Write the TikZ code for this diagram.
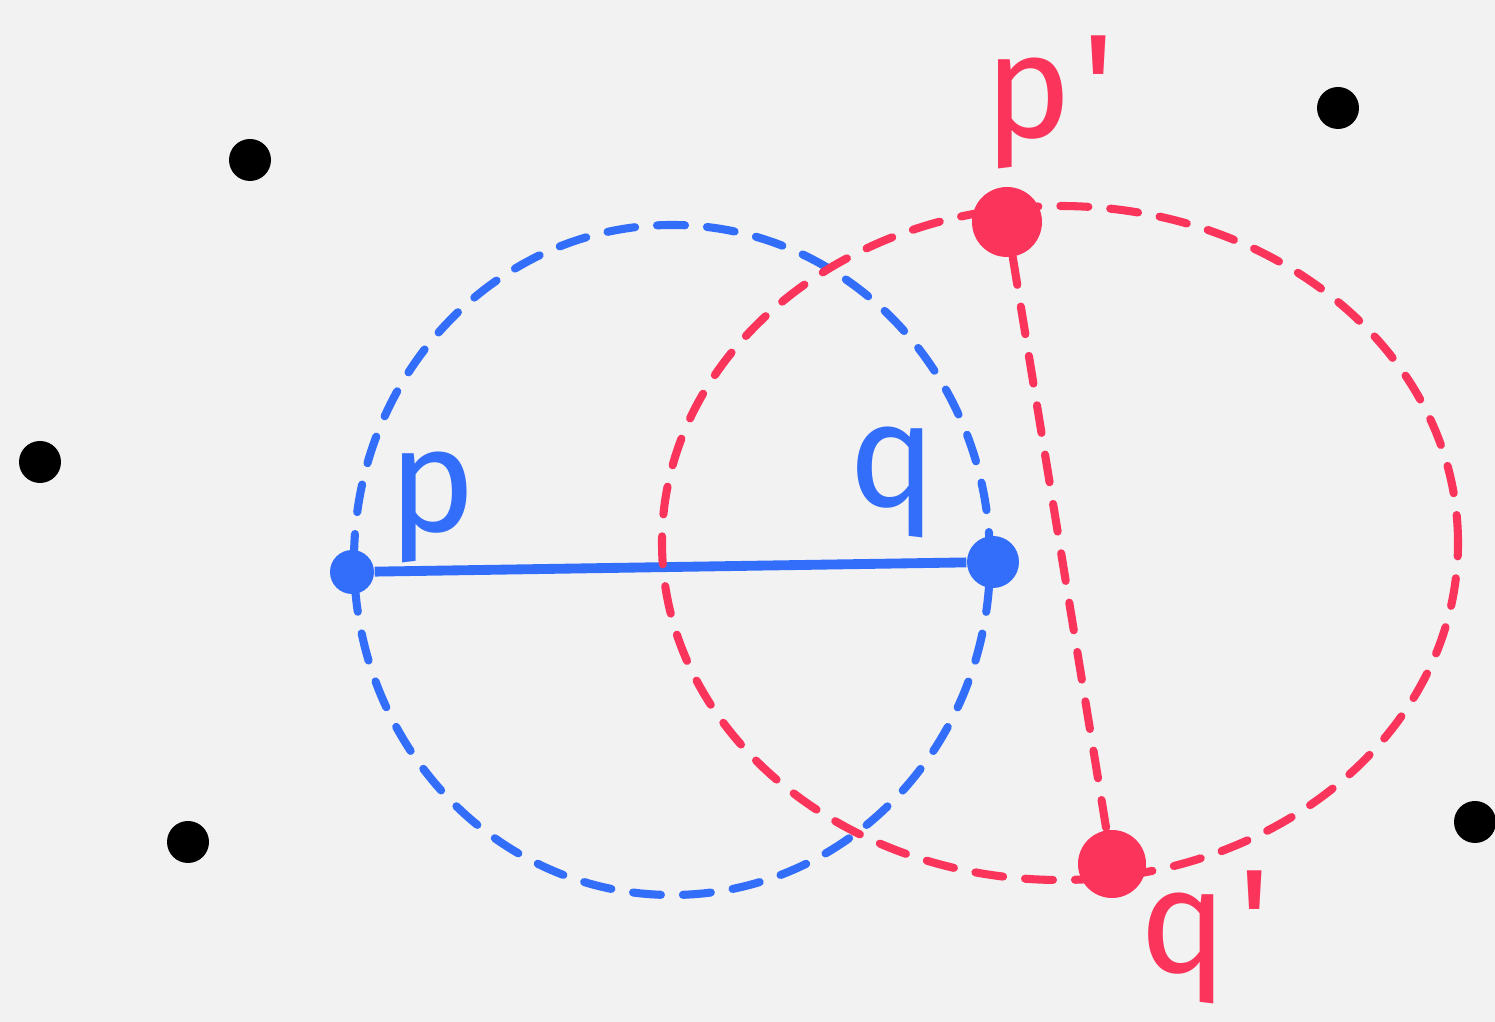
\documentclass[tikz,border=0pt]{standalone}
\usepackage{fontspec}
\setmainfont{Fira Sans}
\definecolor{penblue}{RGB}{50,110,250}
\definecolor{penred}{RGB}{250,52,90}
\definecolor{paper}{RGB}{242,242,242}
\begin{document}
\begin{tikzpicture}[every node/.style={font=\fontsize{42}{42}\selectfont},
  dot/.style={circle,fill,inner sep=0pt,minimum size=#1},
  pen/.style={line width=2.6pt,line cap=round},
  dashpen/.style={line width=2.3pt,line cap=round,dash pattern=on 0.28cm off 0.22cm}]
% paper
\fill[paper] (0,0) rectangle (14.95,10.22);
\useasboundingbox (0,0) rectangle (14.95,10.22);
% other points
\node[dot=0.42cm,black] (a) at (2.50,8.62) {};
\node[dot=0.42cm,black] (b) at (13.38,9.14) {};
\node[dot=0.42cm,black] (c) at (0.40,5.60) {};
\node[dot=0.42cm,black] (d) at (1.88,1.80) {};
\node[dot=0.42cm,black] (e) at (14.75,2.00) {};
% blue pair and its circle
\draw[dashpen,penblue] (6.72,4.62) ellipse [x radius=3.18cm,y radius=3.35cm];
\node[dot=0.44cm,penblue] (p) at (3.52,4.50) {};
\node[dot=0.52cm,penblue] (q) at (9.93,4.60) {};
\draw[line width=2.8pt,penblue] (p)--(q);
\node[penblue] (plabel) at (4.32,5.15) {p};
\node[penblue] (qlabel) at (8.93,5.40) {q};
% red pair and its circle
\draw[dashpen,penred] (10.60,4.79) ellipse [x radius=3.98cm,y radius=3.37cm];
\node[dot=0.70cm,penred] (pp) at (10.07,8.00) {};
\node[dot=0.68cm,penred] (qq) at (11.12,1.58) {};
\draw[dashpen,penred] (pp)--(qq);
\node[penred] (pplabel) at (10.50,9.20) {p\kern3pt\textquotesingle};
\node[penred] (qqlabel) at (12.05,0.85) {q\kern3pt\textquotesingle};
\end{tikzpicture}
\end{document}
